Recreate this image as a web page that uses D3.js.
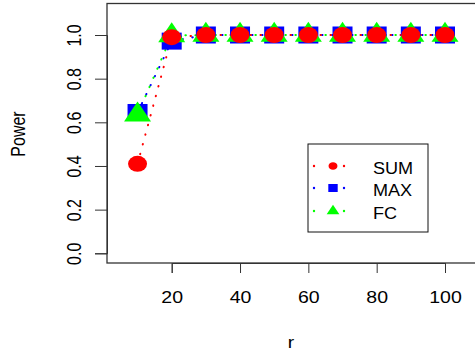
<!DOCTYPE html>
<html><head><meta charset="utf-8">
<script src="https://cdn.jsdelivr.net/npm/d3@7"></script>
<style>body{margin:0;background:#fff}svg{display:block}text{font-family:"Liberation Sans",Arial,sans-serif;fill:#000}</style>
</head><body>
<script>
const r = [10, 20, 30, 40, 50, 60, 70, 80, 90, 100];
const SUM = [0.41, 0.99, 1, 1, 1, 1, 1, 1, 1, 1];
const MAX = [0.645, 0.972, 1, 1, 1, 1, 1, 1, 1, 1];
const FC  = [0.635, 0.998, 1, 1, 1, 1, 1, 1, 1, 1];
const xTicks = [20, 40, 60, 80, 100];
const yTicks = [0, 0.2, 0.4, 0.6, 0.8, 1.0];
const seriesNames = ["SUM", "MAX", "FC"];
const seriesColors = ["#FF0000", "#0000FF", "#00FF00"];

const W = 475, H = 357;
const FONT = '"Liberation Sans",Arial,sans-serif';
const svg = d3.select("body").append("svg").attr("width", W).attr("height", H);
const x = d3.scaleLinear().domain([20, 100]).range([171.7, 445]);
const y = d3.scaleLinear().domain([0, 1]).range([253.3, 35]);

// box
svg.append("rect").attr("x", 107).attr("y", 3.5).attr("width", 380).attr("height", 259.5)
  .attr("fill", "none").attr("stroke", "#333").attr("stroke-width", 1.3);

// axes
const xa = svg.append("g").attr("transform", "translate(0,263)")
  .call(d3.axisBottom(x).tickValues(xTicks).tickSize(10).tickFormat(d3.format("d")));
xa.select(".domain").attr("stroke", "#333");
xa.selectAll("line").attr("stroke", "#333");
xa.selectAll("text")
  .attr("font-size", 16).attr("font-family", FONT).attr("text-anchor", "middle")
  .attr("y", null).attr("dy", null)
  .attr("transform", "translate(0,39.7) scale(1.22,1)");

const ya = svg.append("g").attr("transform", "translate(107,0)")
  .call(d3.axisLeft(y).tickValues(yTicks).tickSize(12).tickFormat(d3.format(".1f")));
ya.select(".domain").attr("stroke", "#333");
ya.selectAll("line").attr("stroke", "#333");
ya.selectAll("text")
  .attr("font-size", 16).attr("font-family", FONT).attr("text-anchor", "middle")
  .attr("x", null).attr("y", null).attr("dy", null)
  .attr("transform", "translate(-26,0) scale(1.3,1) rotate(-90)");

svg.append("text").attr("text-anchor", "middle").attr("font-size", 16)
  .attr("transform", "translate(291,348) scale(1.2,1)").text("r");
svg.append("text").attr("text-anchor", "middle").attr("font-size", 16)
  .attr("transform", "translate(25,134) scale(1.3,1) rotate(-90)").text("Power");

// symbols
function drawSym(g, type, cx, cy, s, color) {
  if (type === "SUM") {
    g.append("ellipse").attr("cx", cx).attr("cy", cy).attr("rx", 9.5 * s).attr("ry", 8 * s).attr("fill", color);
  } else if (type === "MAX") {
    g.append("rect").attr("x", cx - 10 * s).attr("y", cy - 8.5 * s).attr("width", 20 * s).attr("height", 17 * s).attr("fill", color);
  } else {
    const hw = 13.5 * s, top = 13.3 * s, bot = 6.7 * s;
    g.append("path").attr("d", `M${cx},${cy - top}L${cx + hw},${cy + bot}L${cx - hw},${cy + bot}Z`).attr("fill", color);
  }
}

const data = { SUM, MAX, FC };
const order = ["MAX", "FC", "SUM"];
const line = d3.line().x((d, i) => x(r[i])).y(d => y(d));
order.forEach(name => {
  const col = seriesColors[seriesNames.indexOf(name)];
  svg.append("path").datum(data[name]).attr("d", line).attr("fill", "none")
    .attr("stroke", col).attr("stroke-width", 2).attr("stroke-linecap", "round")
    .attr("stroke-dasharray", "0.5 9.5");
});
order.forEach(name => {
  const col = seriesColors[seriesNames.indexOf(name)];
  const g = svg.append("g");
  data[name].forEach((v, i) => drawSym(g, name, x(r[i]), y(v), 1, col));
});

// legend
const lg = svg.append("g");
lg.append("rect").attr("x", 308).attr("y", 144).attr("width", 120).attr("height", 88)
  .attr("fill", "#fff").attr("stroke", "#111").attr("stroke-width", 1);
const rowsY = [166, 188, 211];
seriesNames.forEach((name, i) => {
  const col = seriesColors[i], yy = rowsY[i];
  lg.append("circle").attr("cx", 314).attr("cy", yy).attr("r", 1.2).attr("fill", col);
  lg.append("circle").attr("cx", 344).attr("cy", yy).attr("r", 1.2).attr("fill", col);
  drawSym(lg, name, 333, yy, 0.47, col);
  lg.append("text").attr("font-size", 16)
    .attr("transform", `translate(373,${yy + 8}) scale(1.13,1)`).text(name);
});
</script>
</body></html>
